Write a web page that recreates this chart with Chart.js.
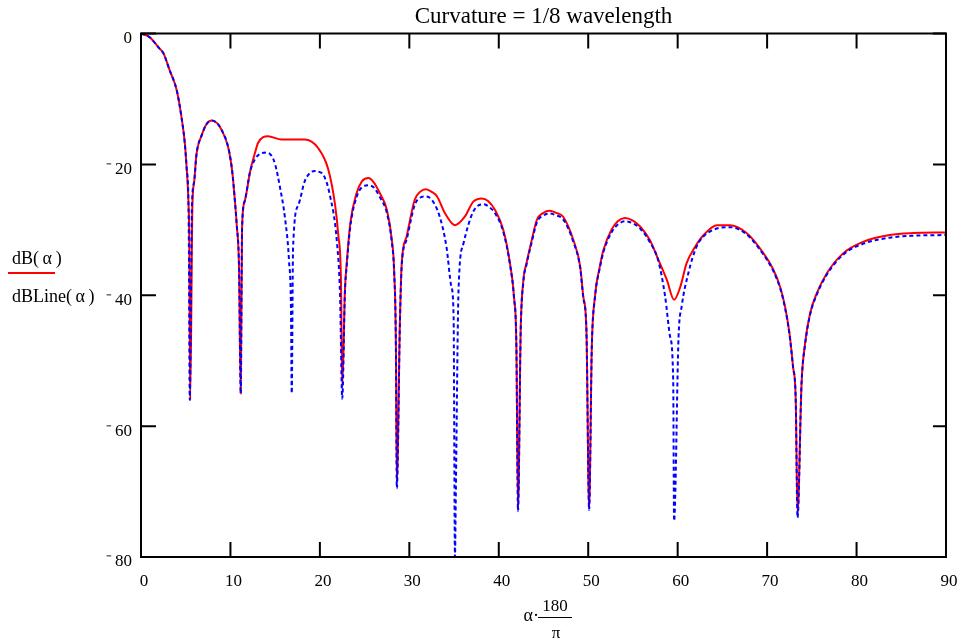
<!DOCTYPE html>
<html>
<head>
<meta charset="utf-8">
<script src="https://cdn.jsdelivr.net/npm/chart.js@4/dist/chart.umd.min.js"></script>
<style>
  html, body { margin: 0; padding: 0; background: #fff; }
  #wrap { width: 961px; height: 642px; }
</style>
</head>
<body>
<div id="wrap"><canvas id="chart" width="961" height="642"></canvas></div>
<script>
// angles in degrees (alpha*180/pi) and levels in dB
const redAngle = [0, 1, 2, 2.5, 3.2, 4.0, 4.55, 4.9, 5.1, 5.3, 5.4, 5.5, 5.75, 5.95, 6.2, 6.8, 7.3, 7.9, 8.5, 9.0,
  9.77, 10.2, 10.5, 10.7, 10.96, 11.15, 11.3, 11.6, 12.2, 12.75, 13.1, 14.2, 15.7, 18.3, 19.8, 20.9, 21.7, 22.05, 22.36, 22.5,
  22.8, 23.0, 23.4, 24.1, 24.7, 25.4, 26.0, 26.7, 27.5, 28.05, 28.3, 28.5, 28.6, 28.95, 29.15, 29.7, 30.6, 31.2, 31.85, 32.5,
  33.1, 34.0, 35.1, 36.2, 37.15, 38.1, 38.8, 39.6, 40.5, 41.25, 41.7, 41.97, 42.15, 42.45, 42.75, 43.1, 43.7, 44.25, 45.0, 45.7,
  46.4, 47.2, 48.35, 49.1, 49.45, 49.8, 50.1, 50.4, 50.75, 51.3, 51.7, 52.6, 53.3, 54.1, 55.0, 55.8, 56.9, 57.85, 58.8, 59.6,
  60.3, 61.0, 61.95, 62.9, 64.4, 65.85, 67.7, 69.6, 70.7, 71.45, 72.0, 72.5, 72.9, 73.2, 73.4, 73.85, 74.25, 74.8, 75.55, 76.7,
  78.5, 80.8, 83.7, 86.35, 90];
const redDb = [0, -0.6, -2.2, -3.0, -5.6, -8.7, -13, -16.8, -20.5, -25.6, -31.7, -56, -26.2, -22.6, -18.5, -15.5, -13.9, -13.3, -13.7, -14.7,
  -17.5, -21.1, -25.6, -29.2, -35.8, -55, -29.7, -25.6, -21.1, -18.2, -16.7, -15.7, -16.2, -16.2, -17.5, -20.6, -26.2, -30.7, -37.9, -54,
  -39.2, -35.1, -29, -24.4, -22.6, -22.1, -22.7, -24.4, -27, -31.6, -36.1, -47.9, -68.5, -43.8, -35.1, -31, -25.4, -24.2, -23.8, -24.2,
  -24.9, -27.5, -29.3, -28, -25.7, -25.2, -25.6, -27, -30, -35.1, -40.2, -47.9, -72.8, -45.3, -37.7, -35.1, -31.5, -28.5, -27.4, -27.1,
  -27.4, -28, -31.6, -35.6, -40.2, -45.3, -72.6, -47.9, -40.2, -35.6, -33.1, -30, -28.7, -28.2, -28.6, -29.5, -31.6, -34.6, -37.7, -40.7,
  -38.7, -35.1, -32.6, -30.8, -29.3, -29.3, -30.5, -33.6, -36.1, -38.7, -41.7, -45.8, -50.9, -56, -73.5, -53.5, -47.3, -42.8, -39.7, -36.6,
  -33.6, -31.8, -30.8, -30.5, -30.4];

const blueAngle = [0, 1, 2, 2.5, 3.2, 4.0, 4.55, 4.9, 5.1, 5.3, 5.35, 5.45, 5.7, 5.95, 6.2, 6.8, 7.3, 7.9, 8.5, 9.0,
  9.77, 10.2, 10.5, 10.7, 10.96, 11.15, 11.3, 11.6, 12.2, 12.75, 13.3, 14.05, 14.6, 15.0, 15.55, 16.1, 16.55, 16.77, 16.85, 17.0,
  17.6, 18.3, 18.9, 19.45, 20.0, 20.4, 21.1, 21.9, 22.25, 22.5, 22.8, 23.0, 23.4, 24.1, 24.7, 25.4, 26.0, 26.7, 27.5, 28.05,
  28.3, 28.5, 28.6, 28.95, 29.15, 29.7, 30.6, 31.2, 31.85, 32.5, 33.4, 34.15, 34.7, 34.95, 35.1, 35.2, 35.5, 36.05, 37.15, 38.3,
  39.0, 39.6, 40.5, 41.25, 41.7, 41.97, 42.15, 42.45, 42.75, 43.1, 43.7, 44.25, 45.0, 45.7, 46.4, 47.2, 48.35, 49.1, 49.45, 49.8,
  50.1, 50.4, 50.75, 51.3, 51.7, 52.6, 53.3, 54.1, 55.0, 55.8, 56.9, 57.85, 58.6, 59.15, 59.5, 59.6, 60.1, 60.45, 61.2, 62.1,
  62.9, 64.4, 65.85, 67.7, 69.6, 70.7, 71.45, 72.0, 72.5, 72.9, 73.2, 73.4, 73.85, 74.25, 74.8, 75.55, 76.7, 78.5, 80.8, 83.7,
  86.35, 90];
const blueDb = [0, -0.6, -2.2, -3.0, -5.6, -8.7, -13, -16.8, -20.5, -25.6, -31.7, -56, -26.2, -22.6, -18.5, -15.5, -13.9, -13.3, -13.7, -14.7,
  -17.5, -21.1, -25.6, -29.2, -35.8, -55, -29.7, -25.6, -21.1, -19.2, -18.4, -18.2, -18.7, -20, -23.6, -28.2, -34.8, -42.4, -55, -32.8,
  -26.2, -22.6, -21.3, -21.0, -21.2, -21.6, -24.6, -31.8, -39.9, -55.8, -39.5, -35.5, -29.5, -25, -23.5, -23.2, -23.5, -25, -27.5, -32,
  -36.5, -48, -69.5, -44, -35.5, -31.5, -26.2, -25.1, -24.9, -25.4, -28, -32.6, -38.7, -43.3, -80, -70, -39.2, -32.1, -27.2, -26.1,
  -26.6, -27.5, -30.3, -35.3, -40.4, -48, -73, -45.5, -38, -35.3, -31.8, -28.9, -27.8, -27.5, -27.8, -28.4, -31.9, -35.8, -40.4, -45.5,
  -72.8, -48, -40.4, -35.8, -33.4, -30.4, -29.2, -28.7, -29, -29.8, -31.9, -34.8, -40.2, -46.3, -53, -74.5, -46.3, -41.7, -36.6, -32.6,
  -31, -29.8, -29.6, -30.7, -33.8, -36.3, -38.9, -41.9, -46, -51, -56, -74, -53.5, -47.5, -43, -39.9, -36.8, -33.8, -32.1, -31.2,
  -30.9, -30.8];

const xTicks = [0, 10, 20, 30, 40, 50, 60, 70, 80, 90];
const yTicks = [0, -20, -40, -60, -80];
const titleText = 'Curvature = 1/8 wavelength';

const serif = '"Liberation Serif", "Times New Roman", serif';

function pairs(xs, ys) {
  return xs.map((v, i) => ({ x: v, y: ys[i] }));
}

// frame, inward ticks on all four sides and the MathCad style labels
const decor = {
  id: 'decor',
  afterDraw(chart) {
    const ctx = chart.ctx;
    const a = chart.chartArea;
    const xs = chart.scales.x;
    const ys = chart.scales.y;
    ctx.save();
    ctx.strokeStyle = '#000';
    ctx.lineWidth = 2;
    ctx.strokeRect(a.left, a.top, a.right - a.left, a.bottom - a.top);
    ctx.beginPath();
    xTicks.forEach(v => {
      const px = xs.getPixelForValue(v);
      ctx.moveTo(px, a.top); ctx.lineTo(px, a.top + 15);
      ctx.moveTo(px, a.bottom); ctx.lineTo(px, a.bottom - 15);
    });
    yTicks.forEach(v => {
      const py = ys.getPixelForValue(v);
      ctx.moveTo(a.left, py); ctx.lineTo(a.left + 15, py);
      ctx.moveTo(a.right, py); ctx.lineTo(a.right - 13, py);
    });
    ctx.stroke();

    ctx.fillStyle = '#000';
    ctx.textBaseline = 'alphabetic';
    ctx.font = '23px ' + serif;
    ctx.textAlign = 'center';
    ctx.fillText(titleText, (a.left + a.right) / 2, 23);

    // y axis title with legend line
    ctx.font = '18px ' + serif;
    ctx.textAlign = 'left';
    ctx.fillText('dB(\u2009α\u2009)', 12, 264);
    ctx.fillText('dBLine(\u2009α\u2009)', 12, 302);
    ctx.strokeStyle = '#ff0000';
    ctx.lineWidth = 2;
    ctx.beginPath();
    ctx.moveTo(8, 273); ctx.lineTo(55, 273);
    ctx.stroke();

    // x axis title: alpha * 180 / pi
    ctx.font = '18px ' + serif;
    ctx.textAlign = 'right';
    ctx.fillText('α·', 539, 621);
    ctx.font = '17px ' + serif;
    ctx.textAlign = 'center';
    ctx.fillText('180', 555, 611);
    ctx.fillText('π', 556, 638);
    ctx.strokeStyle = '#000';
    ctx.lineWidth = 1;
    ctx.beginPath();
    ctx.moveTo(538, 617.5); ctx.lineTo(572, 617.5);
    ctx.stroke();
    ctx.restore();
  }
};

new Chart(document.getElementById('chart'), {
  type: 'line',
  data: {
    datasets: [
      {
        label: 'dB(α)',
        data: pairs(redAngle, redDb),
        borderColor: '#ff0000',
        borderWidth: 2,
        pointRadius: 0,
        cubicInterpolationMode: 'monotone',
        order: 2
      },
      {
        label: 'dBLine(α)',
        data: pairs(blueAngle, blueDb),
        borderColor: '#0000ff',
        borderWidth: 2,
        borderDash: [4, 3],
        pointRadius: 0,
        cubicInterpolationMode: 'monotone',
        order: 1
      }
    ]
  },
  options: {
    responsive: false,
    animation: false,
    layout: { padding: { top: 33.5, right: 15, left: 0, bottom: 0 } },
    plugins: {
      legend: { display: false },
      tooltip: { enabled: false },
      title: { display: false }
    },
    scales: {
      x: {
        type: 'linear',
        min: 0,
        max: 90,
        afterFit: s => { s.height = 85; s.paddingLeft = 0; s.paddingRight = 0; },
        afterBuildTicks: s => { s.ticks = xTicks.map(v => ({ value: v })); },
        grid: { display: false, drawTicks: false },
        border: { display: false },
        ticks: {
          color: '#000',
          font: { family: serif, size: 17 },
          padding: 14,
          labelOffset: 3,
          maxRotation: 0,
          callback: v => String(v)
        }
      },
      y: {
        min: -80,
        max: 0,
        afterFit: s => { s.width = 141; s.paddingTop = 0; s.paddingBottom = 0; },
        afterBuildTicks: s => { s.ticks = yTicks.map(v => ({ value: v })); },
        grid: { display: false, drawTicks: false },
        border: { display: false },
        ticks: {
          color: '#000',
          font: { family: serif, size: 17 },
          padding: 9,
          labelOffset: 5,
          callback: v => v < 0 ? '\u207B\u2009' + String(-v) : String(v)
        }
      }
    }
  },
  plugins: [decor]
});
</script>
</body>
</html>
